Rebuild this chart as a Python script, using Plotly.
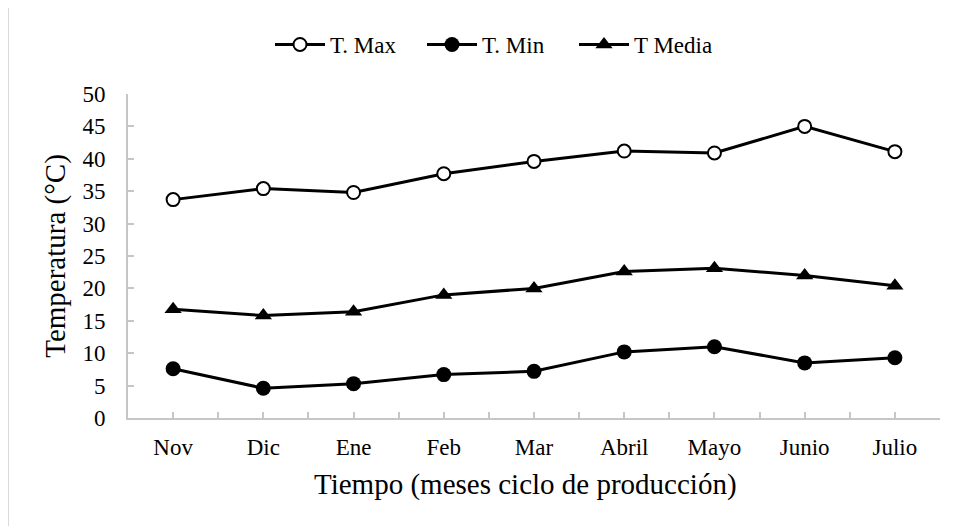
import plotly.graph_objects as go

months = ["Nov", "Dic", "Ene", "Feb", "Mar", "Abril", "Mayo", "Junio", "Julio"]
t_max = [33.7, 35.4, 34.8, 37.7, 39.6, 41.2, 40.9, 45.0, 41.1]
t_min = [7.6, 4.6, 5.3, 6.7, 7.2, 10.2, 11.0, 8.5, 9.3]
t_media = [16.8, 15.8, 16.4, 19.0, 20.0, 22.6, 23.1, 22.0, 20.4]
y_ticks = [0, 5, 10, 15, 20, 25, 30, 35, 40, 45, 50]

xs = list(range(len(months)))
FONT = "Liberation Serif, Times New Roman, serif"

fig = go.Figure()
fig.add_trace(go.Scatter(
    x=xs, y=t_max, name="T. Max", mode="lines+markers",
    line=dict(color="black", width=3),
    marker=dict(symbol="circle", size=13, color="white", line=dict(color="black", width=2)),
))
fig.add_trace(go.Scatter(
    x=xs, y=t_min, name="T. Min", mode="lines+markers",
    line=dict(color="black", width=3),
    marker=dict(symbol="circle", size=15, color="black"),
))
fig.add_trace(go.Scatter(
    x=xs, y=t_media, name="T Media", mode="lines+markers",
    line=dict(color="black", width=3),
    marker=dict(symbol="triangle-up", size=15, color="black"),
))

# page body adds an 8px offset; figure coordinates = screen - 8
OFF = 8
W, H = 958 - OFF, 526 - OFF
L = 128 - OFF
T = 94 - OFF
R = W - (940 - OFF)
B = H - (418 - OFF)
pw = W - L - R
ph = H - T - B

def px(sx):
    return (sx - OFF - L) / pw

def py(sy):
    return (H - B - (sy - OFF)) / ph

fig.update_layout(
    width=W, height=H,
    margin=dict(l=L, r=R, t=T, b=B),
    paper_bgcolor="white", plot_bgcolor="white",
    font=dict(family=FONT, color="black", size=23),
    showlegend=True,
    legend=dict(
        orientation="h", x=px(270), xanchor="left",
        y=py(23), yanchor="top",
        font=dict(size=23, family=FONT), itemwidth=50,
        entrywidth=87, entrywidthmode="pixels",
        bgcolor="rgba(0,0,0,0)",
    ),
    xaxis=dict(
        range=[-0.5, len(months) - 0.5],
        tickmode="array", tickvals=xs, ticktext=months,
        showgrid=False, zeroline=False,
        showline=True, linecolor="#c6c6c6", linewidth=2,
        ticks="inside", ticklen=6, tickcolor="#c6c6c6", tickwidth=1.5,
        minor=dict(dtick=0.5, tick0=-0.5, ticks="inside", ticklen=6, tickcolor="#c6c6c6", tickwidth=1.5),
        tickfont=dict(size=23, family=FONT),
        ticklabelstandoff=7,
    ),
    yaxis=dict(
        range=[0, 50], tickmode="array", tickvals=y_ticks,
        showgrid=False, zeroline=False,
        showline=True, linecolor="#c6c6c6", linewidth=2,
        ticks="inside", ticklen=6, tickcolor="#c6c6c6", tickwidth=1.5,
        tickfont=dict(size=23, family=FONT),
        ticklabelstandoff=16,
        title=dict(text="Temperatura (°C)", font=dict(size=29, family=FONT), standoff=8),
    ),
    annotations=[
        dict(text="Tiempo (meses ciclo de producción)", xref="paper", yref="paper",
             x=px(525), y=py(484), xanchor="center", yanchor="middle",
             showarrow=False, font=dict(size=29, family=FONT, color="black")),
    ],
    shapes=[
        dict(type="line", xref="paper", yref="paper",
             x0=px(8), x1=px(1000), y0=py(6), y1=py(6),
             line=dict(color="#d9d9d9", width=2)),
        dict(type="line", xref="paper", yref="paper",
             x0=px(8), x1=px(8), y0=py(6), y1=py(560),
             line=dict(color="#d9d9d9", width=2)),
    ],
)

fig.write_html("out.html")
